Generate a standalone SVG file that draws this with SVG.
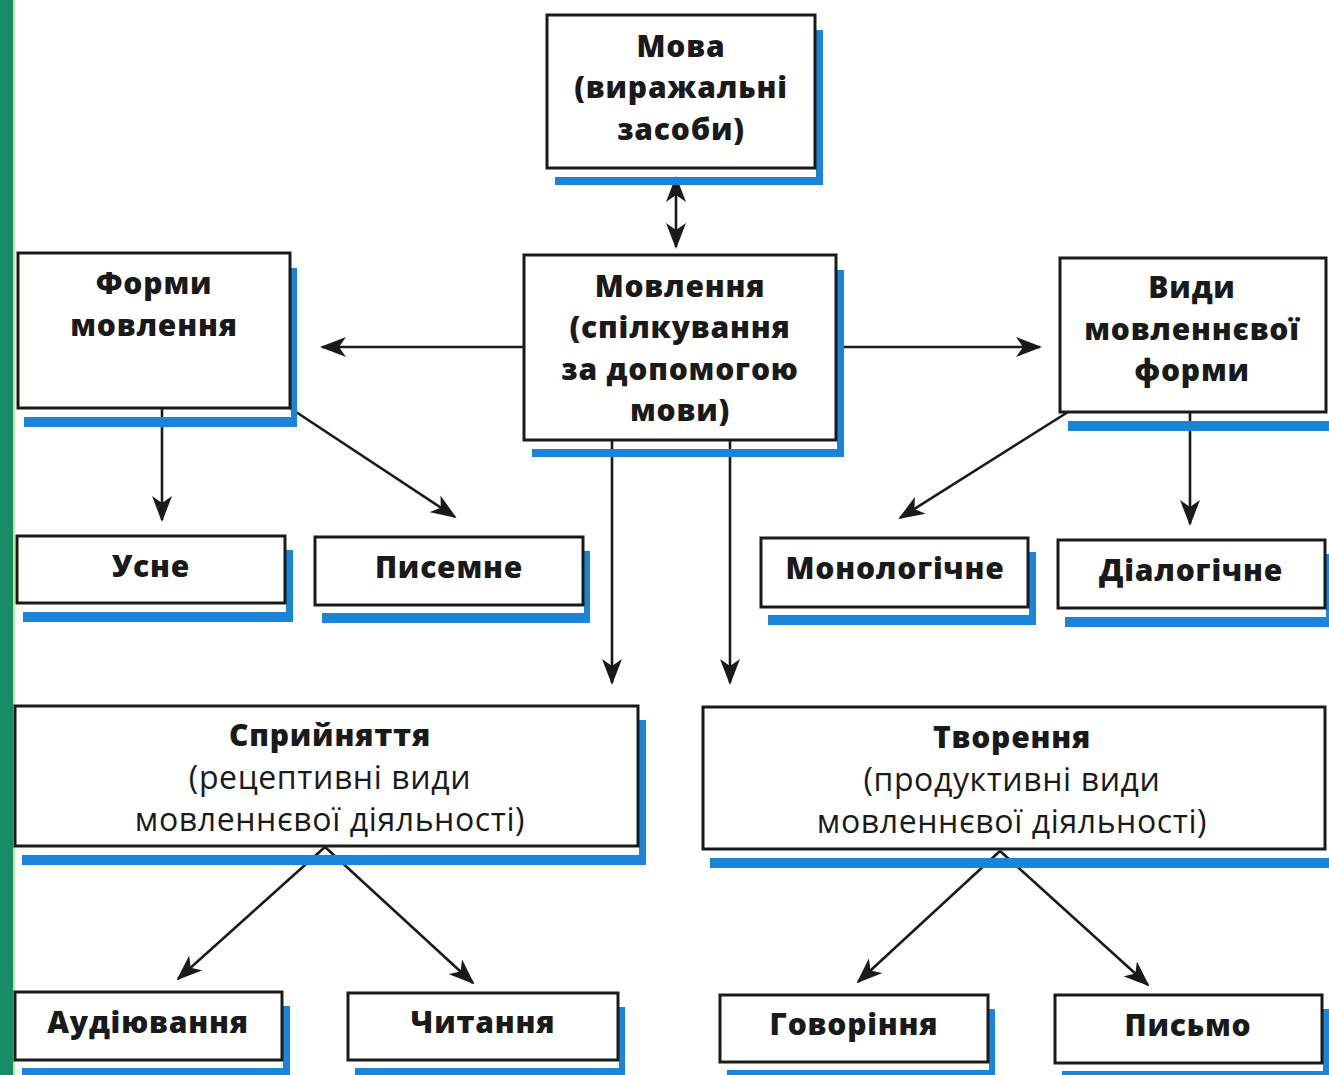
<svg xmlns="http://www.w3.org/2000/svg" width="1329" height="1075" viewBox="0 0 1329 1075">
<defs>
<style>
.box{fill:#fff;stroke:#1a1a1a;stroke-width:3}
.sh{fill:#1b84d8}
.t{font-family:"Open Sans","Liberation Sans",sans-serif;font-weight:800;font-size:30px;letter-spacing:0.8px;fill:#1a1a1a;text-anchor:middle}
.r{font-weight:400;font-size:32px;letter-spacing:0.6px}
.ln{stroke:#1a1a1a;stroke-width:2.6;fill:none;marker-end:url(#ah)}
</style>
<marker id="ah" markerUnits="userSpaceOnUse" markerWidth="26" markerHeight="20" refX="24" refY="10" orient="auto-start-reverse" viewBox="0 0 26 20">
<path d="M0,0 L26,10 L0,20 L7,10 z" fill="#1a1a1a"/>
</marker>
</defs>
<rect width="1329" height="1075" fill="#fff"/>
<rect x="0" y="0" width="13" height="1075" fill="#178a66"/>
<rect x="13" y="0" width="2" height="1075" fill="#b9e8a0"/>

<g id="connectors">
<line class="ln" x1="676" y1="178" x2="676" y2="247" style="marker-start:url(#ah)"/>
<line class="ln" x1="524" y1="347" x2="322" y2="347"/>
<line class="ln" x1="836" y1="347" x2="1040" y2="347"/>
<line class="ln" x1="162" y1="409" x2="162" y2="520"/>
<line class="ln" x1="290" y1="408" x2="455" y2="517"/>
<line class="ln" x1="1068" y1="412" x2="900" y2="518"/>
<line class="ln" x1="1190" y1="413" x2="1190" y2="524"/>
<line class="ln" x1="612" y1="441" x2="612" y2="683"/>
<line class="ln" x1="730" y1="441" x2="730" y2="683"/>
<line class="ln" x1="325" y1="847" x2="178" y2="979"/>
<line class="ln" x1="325" y1="847" x2="473" y2="983"/>
<line class="ln" x1="1000" y1="851" x2="858" y2="982"/>
<line class="ln" x1="1000" y1="851" x2="1148" y2="985"/>
</g>

<g id="n-mova">
<rect class="sh" x="555" y="177" width="268" height="8"/><rect class="sh" x="816" y="30" width="7" height="155"/>
<rect class="box" x="547" y="15" width="268" height="153"/>
<text class="t" x="681" y="57">Мова</text>
<text class="t" x="681" y="98">(виражальні</text>
<text class="t" x="681" y="140">засоби)</text>
</g>

<g id="n-movlennia">
<rect class="sh" x="532" y="449" width="312" height="8"/><rect class="sh" x="837" y="270" width="7" height="187"/>
<rect class="box" x="524" y="255" width="312" height="185"/>
<text class="t" x="680" y="297">Мовлення</text>
<text class="t" x="680" y="338">(спілкування</text>
<text class="t" x="680" y="380">за допомогою</text>
<text class="t" x="680" y="421">мови)</text>
</g>

<g id="n-formy">
<rect class="sh" x="24" y="417" width="272" height="10"/><rect class="sh" x="291" y="268" width="6" height="159"/>
<rect class="box" x="18" y="253" width="272" height="155"/>
<text class="t" x="154" y="294">Форми</text>
<text class="t" x="154" y="336">мовлення</text>
</g>

<g id="n-vydy">
<rect class="sh" x="1068" y="421" width="261" height="10"/>
<rect class="box" x="1060" y="258" width="266" height="154"/>
<text class="t" x="1192" y="298">Види</text>
<text class="t" x="1192" y="340">мовленнєвої</text>
<text class="t" x="1192" y="381">форми</text>
</g>

<g id="n-usne">
<rect class="sh" x="23" y="612" width="270" height="10"/><rect class="sh" x="286" y="550" width="7" height="72"/>
<rect class="box" x="17" y="536" width="268" height="67"/>
<text class="t" x="151" y="577">Усне</text>
</g>

<g id="n-pysemne">
<rect class="sh" x="322" y="613" width="268" height="10"/><rect class="sh" x="584" y="551" width="6" height="72"/>
<rect class="box" x="315" y="537" width="268" height="68"/>
<text class="t" x="449" y="578">Писемне</text>
</g>

<g id="n-monolog">
<rect class="sh" x="768" y="615" width="268" height="10"/><rect class="sh" x="1029" y="552" width="7" height="73"/>
<rect class="box" x="761" y="538" width="267" height="69"/>
<text class="t" x="895" y="579">Монологічне</text>
</g>

<g id="n-dialog">
<rect class="sh" x="1065" y="617" width="264" height="10"/><rect class="sh" x="1326" y="554" width="3" height="73"/>
<rect class="box" x="1058" y="540" width="267" height="68"/>
<text class="t" x="1191" y="581">Діалогічне</text>
</g>

<g id="n-spryiniattia">
<rect class="sh" x="22" y="855" width="624" height="10"/><rect class="sh" x="639" y="720" width="7" height="145"/>
<rect class="box" x="15" y="706" width="623" height="140"/>
<text class="t" x="330" y="746">Сприйняття</text>
<text class="t r" x="330" y="789">(рецептивні види</text>
<text class="t r" x="330" y="831">мовленнєвої діяльності)</text>
</g>

<g id="n-tvorennia">
<rect class="sh" x="710" y="858" width="619" height="10"/>
<rect class="box" x="703" y="707" width="622" height="142"/>
<text class="t" x="1012" y="748">Творення</text>
<text class="t r" x="1012" y="791">(продуктивні види</text>
<text class="t r" x="1012" y="833">мовленнєвої діяльності)</text>
</g>

<g id="n-audiuvannia">
<rect class="sh" x="22" y="1068" width="268" height="10"/><rect class="sh" x="283" y="1006" width="7" height="72"/>
<rect class="box" x="15" y="992" width="267" height="68"/>
<text class="t" x="148" y="1033">Аудіювання</text>
</g>

<g id="n-chytannia">
<rect class="sh" x="355" y="1068" width="270" height="10"/><rect class="sh" x="619" y="1007" width="6" height="71"/>
<rect class="box" x="348" y="993" width="270" height="67"/>
<text class="t" x="483" y="1033">Читання</text>
</g>

<g id="n-hovorinnia">
<rect class="sh" x="727" y="1070" width="268" height="8"/><rect class="sh" x="989" y="1009" width="6" height="69"/>
<rect class="box" x="720" y="995" width="268" height="67"/>
<text class="t" x="854" y="1035">Говоріння</text>
</g>

<g id="n-pysmo">
<rect class="sh" x="1062" y="1071" width="267" height="8"/><rect class="sh" x="1323" y="1009" width="6" height="70"/>
<rect class="box" x="1055" y="995" width="267" height="68"/>
<text class="t" x="1188" y="1036">Письмо</text>
</g>
</svg>
